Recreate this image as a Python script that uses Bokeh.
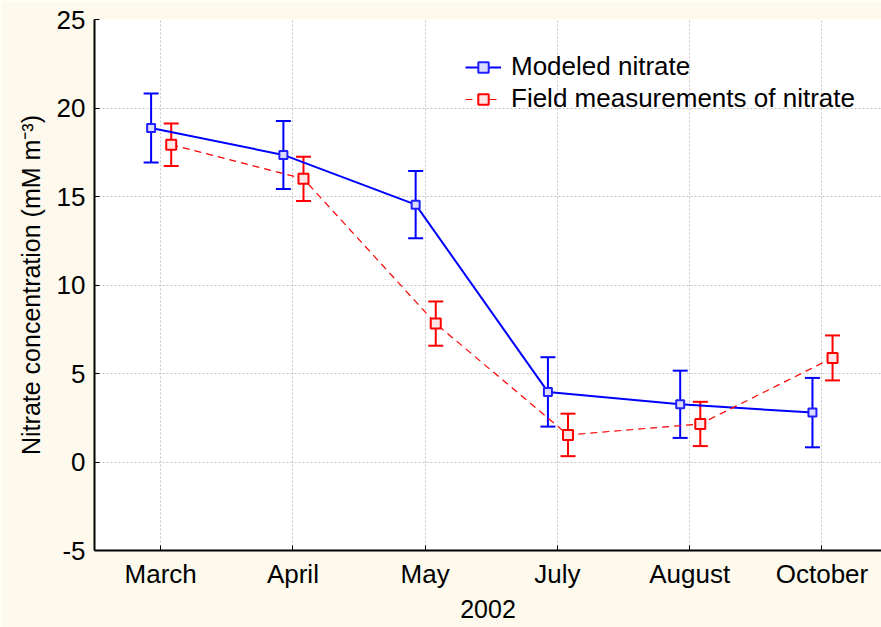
import numpy as np
from bokeh.plotting import figure
from bokeh.models import (ColumnDataSource, Range1d, FixedTicker, Whisker, TeeHead,
                          Legend, LegendItem)
from bokeh.embed import file_html
from bokeh.resources import INLINE

# Monthly nitrate: model output vs. field measurements (2002)
months = ["March", "April", "May", "July", "August", "October"]
modeled = [18.87, 17.35, 14.54, 3.96, 3.26, 2.79]
modeled_err = [1.95, 1.92, 1.90, 1.96, 1.90, 1.96]
field = [17.93, 16.00, 7.82, 1.53, 2.15, 5.88]
field_err = [1.20, 1.25, 1.25, 1.20, 1.25, 1.27]
y_ticks = [-5, 0, 5, 10, 15, 20, 25]

FONT = "Liberation Sans"
FS = "26px"
BG = "#FDF9EC"

idx = np.arange(len(months))
mod_src = ColumnDataSource(dict(
    x=idx - 0.072, y=modeled,
    lo=np.array(modeled) - np.array(modeled_err),
    hi=np.array(modeled) + np.array(modeled_err)))
fld_src = ColumnDataSource(dict(
    x=idx + 0.08, y=field,
    lo=np.array(field) - np.array(field_err),
    hi=np.array(field) + np.array(field_err)))

p = figure(width=881, height=627, output_backend="svg", toolbar_location=None,
           x_range=Range1d(-0.5, 5.45), y_range=Range1d(-5, 25),
           min_border_left=94, min_border_right=0, min_border_top=19,
           min_border_bottom=77)
p.border_fill_color = BG
p.background_fill_color = "white"
p.outline_line_color = None

# axes
p.xaxis.ticker = FixedTicker(ticks=list(idx))
p.xaxis.major_label_overrides = {int(i): m for i, m in zip(idx, months)}
p.yaxis.ticker = FixedTicker(ticks=y_ticks)
p.yaxis.major_label_overrides = {t: str(t) for t in y_ticks}
p.xaxis.axis_label = "2002"
p.yaxis.axis_label = "Nitrate concentration (mM m\u207b\u00b3)"
for ax in (p.xaxis, p.yaxis):
    ax.axis_line_color = "black"
    ax.axis_line_width = 2
    ax.major_tick_in = 5
    ax.major_tick_out = 0
    ax.major_tick_line_color = "black"
    ax.major_tick_line_width = 1
    ax.minor_tick_line_color = None
    ax.major_label_text_font = FONT
    ax.major_label_text_font_size = FS
    ax.major_label_text_color = "black"
    ax.axis_label_text_font = FONT
    ax.axis_label_text_font_size = "25px"
    ax.axis_label_text_font_style = "normal"
    ax.axis_label_text_color = "black"
p.yaxis.major_label_standoff = 9
p.xaxis.major_label_standoff = 8
p.yaxis.axis_label_standoff = 9
p.xaxis.axis_label_standoff = 8

# grid
for g in (p.xgrid, p.ygrid):
    g.grid_line_color = "#c4c4c4"
    g.grid_line_dash = "2 2"
    g.grid_line_width = 1

# error bars
p.add_layout(Whisker(base="x", lower="lo", upper="hi", source=mod_src,
                     line_color="#0000ff", line_width=2,
                     lower_head=TeeHead(size=15, line_color="#0000ff", line_width=2),
                     upper_head=TeeHead(size=15, line_color="#0000ff", line_width=2)))
p.add_layout(Whisker(base="x", lower="lo", upper="hi", source=fld_src,
                     line_color="#ff0000", line_width=2,
                     lower_head=TeeHead(size=15, line_color="#ff0000", line_width=2),
                     upper_head=TeeHead(size=15, line_color="#ff0000", line_width=2)))

# series
m_line = p.line("x", "y", source=mod_src, line_color="#0000ff", line_width=2)
m_pts = p.scatter("x", "y", source=mod_src, marker="square", size=8,
                  line_color="#2020ff", line_width=2, fill_color="#dcdcff")
f_line = p.line("x", "y", source=fld_src, line_color="#ff0000", line_width=1.2,
                line_dash="7 5")
f_pts = p.scatter("x", "y", source=fld_src, marker="square", size=10,
                  line_color="#ff0000", line_width=2, fill_color="#ffe6e6")

legend = Legend(items=[
    LegendItem(label="Modeled nitrate", renderers=[m_line, m_pts]),
    LegendItem(label="Field measurements of nitrate", renderers=[f_line, f_pts]),
], location=(371, 436))
legend.background_fill_alpha = 0
legend.border_line_color = None
legend.label_text_font = FONT
legend.label_text_font_size = FS
legend.label_text_color = "black"
legend.glyph_width = 36
legend.glyph_height = 26
legend.label_standoff = 10
legend.spacing = 1
legend.padding = 0
legend.margin = 0
p.add_layout(legend)

open("out.html", "w").write(file_html(p, INLINE))
